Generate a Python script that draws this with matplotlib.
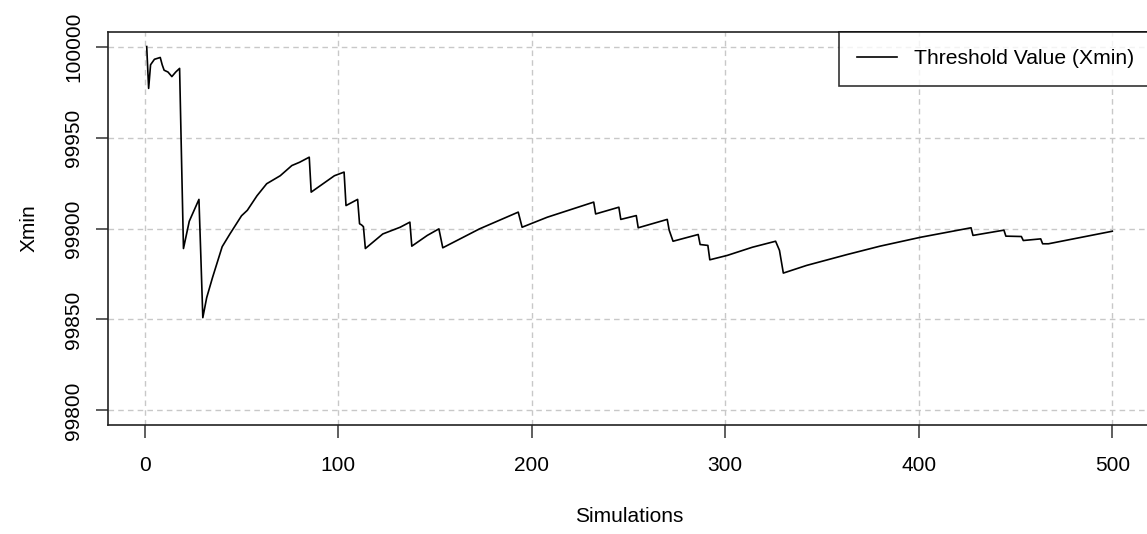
import matplotlib
matplotlib.use('Agg')
import matplotlib.pyplot as plt

# vertices (simulation index, Xmin)
sims = [1, 2, 3, 5, 8, 9, 10, 12, 14, 16, 18, 19, 20, 23, 28, 29, 30,
        32, 35, 40, 44, 50, 53, 58, 63, 70, 76, 80, 85, 86, 98, 103, 104,
        110, 111, 112, 113, 114, 123, 132, 137, 138, 146, 152, 154, 173,
        193, 195, 208, 232, 233, 245, 246, 254, 255, 270, 271, 273, 286,
        287, 291, 292, 301, 314, 326, 328, 330, 342, 363, 380, 401, 427,
        428, 444, 445, 453, 454, 463, 464, 467, 500]
xmin = [100000, 99977, 99990, 99993, 99994, 99990, 99987, 99986, 99983.5,
        99986, 99988, 99938, 99889, 99904, 99916, 99884, 99851,
        99862, 99873, 99890, 99897, 99907, 99910, 99918, 99924.6, 99929,
        99934.6, 99936.4, 99939.2, 99920, 99929, 99931, 99912.6,
        99916, 99902.6, 99902, 99901, 99889, 99897, 99900.7, 99903.5,
        99890.3, 99896.2, 99899.8, 99889.4, 99899.8,
        99909, 99900.7, 99906.2, 99914.5, 99908, 99911.7, 99905, 99907.1,
        99900.4, 99905, 99899.1, 99893, 99896.7,
        99891.2, 99890.7, 99882.8, 99885.2, 99889.7, 99893, 99888, 99875.5,
        99879.7, 99885.7, 99890.3, 99895.2, 99900.4,
        99896.2, 99899.1, 99895.8, 99895.6, 99893.4, 99894.3, 99891.6,
        99891.6, 99898.5]

x_ticks = [0, 100, 200, 300, 400, 500]
y_ticks = [99800, 99850, 99900, 99950, 100000]

plt.rcParams['font.family'] = ['Liberation Sans', 'DejaVu Sans']

fig = plt.figure(figsize=(11.47, 5.34), dpi=100)
ax = fig.add_axes([108 / 1147, 1 - 425 / 534, (1151 - 108) / 1147, (425 - 32) / 534])

ax.plot(sims, xmin, color='black', linewidth=1.2, label='Threshold Value (Xmin)')

ax.set_xlim(-19, 520)
ax.set_ylim(99792, 100008)
ax.set_xticks(x_ticks)
ax.set_yticks(y_ticks)

ax.grid(True, color='#c8c8c8', linestyle=(0, (4, 3)), linewidth=1.0)
ax.set_axisbelow(True)

for s in ax.spines.values():
    s.set_linewidth(1.2)
    s.set_color('#222222')

ax.tick_params(axis='both', direction='out', length=9, width=1.1,
               color='#333333', labelsize=15, pad=9)
ax.tick_params(axis='x', pad=13)
for lab in ax.get_yticklabels():
    lab.set_rotation(90)
    lab.set_va('center')

ax.set_xlabel('Simulations', fontsize=15, labelpad=23)
ax.set_ylabel('Xmin', fontsize=15, labelpad=18)

leg = ax.legend(loc='upper right', bbox_to_anchor=(1, 1), borderaxespad=0,
                fontsize=15.2, frameon=True, fancybox=False, handlelength=1.9,
                handletextpad=0.8, borderpad=0.82)
leg.get_frame().set_edgecolor('black')
leg.get_frame().set_linewidth(1.2)

plt.savefig('out.png', dpi=100)
